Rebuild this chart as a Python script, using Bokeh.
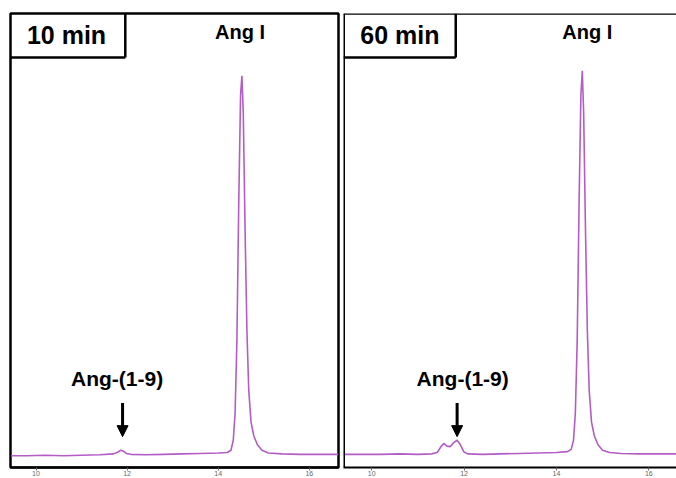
from bokeh.plotting import figure
from bokeh.layouts import row
from bokeh.models import Span, Arrow, NormalHead
from bokeh.core.properties import value
from bokeh.embed import file_html
from bokeh.resources import INLINE

# Retention time (min) and detector signal (a.u.)
t10 = [9.45, 9.8, 10.2, 10.6, 11.0, 11.4, 11.7, 11.8, 11.86, 11.92, 11.98, 12.08, 12.4, 12.8,
       13.2, 13.6, 14.0, 14.2, 14.28, 14.33, 14.37, 14.41, 14.45, 14.49, 14.52, 14.55, 14.59,
       14.63, 14.67, 14.72, 14.78, 14.86, 14.96, 15.1, 15.4, 15.8, 16.2, 16.64]
s10 = [2.6, 2.6, 2.7, 2.6, 2.7, 2.8, 3.0, 3.4, 3.8, 3.6, 3.1, 2.9, 2.8, 2.9,
       3.0, 3.1, 3.2, 3.3, 3.8, 6.0, 12.0, 28.0, 58.0, 82.0, 86.3, 78.0, 52.0,
       30.0, 17.0, 10.0, 7.0, 5.0, 3.8, 3.2, 3.0, 2.9, 2.9, 2.9]

t60 = [9.39, 9.8, 10.2, 10.6, 11.0, 11.3, 11.42, 11.5, 11.56, 11.63, 11.7, 11.78, 11.85, 11.92,
       12.0, 12.08, 12.4, 12.8, 13.2, 13.6, 14.0, 14.24, 14.32, 14.37, 14.41, 14.45, 14.49,
       14.53, 14.56, 14.59, 14.63, 14.67, 14.71, 14.76, 14.82, 14.9, 15.0, 15.15, 15.4, 15.8,
       16.2, 16.6]
s60 = [2.9, 2.9, 2.9, 3.0, 2.9, 3.0, 3.3, 4.6, 5.3, 4.7, 4.6, 5.5, 6.0, 5.0,
       3.4, 3.0, 2.9, 3.0, 3.1, 3.2, 3.3, 3.5, 4.0, 6.0, 12.0, 28.0, 58.0,
       82.0, 87.4, 78.0, 52.0, 30.0, 17.0, 10.0, 7.0, 5.0, 3.8, 3.3, 3.1, 3.0,
       3.0, 3.0]

panel_titles = ["10 min", "60 min"]
peak_labels = ["Ang I", "Ang-(1-9)"]
angI_rt = [14.5, 14.55]
ang19_rt = [11.9, 11.85]
tick_values = [10, 12, 14, 16]

LINE = "#b45cc6"
FONT = value("Liberation Sans")


def panel(t, s, title, x_range, box_right, title_x, angI_x, ang19_x, ang19_lx,
          width, mbl, mbr, outline):
    p = figure(width=width, height=478, x_range=x_range, y_range=(0, 100),
               output_backend="svg", toolbar_location=None, y_axis_location=None,
               min_border_left=mbl, min_border_right=mbr, min_border_top=13,
               min_border_bottom=0, background_fill_color="white",
               border_fill_color="white")
    p.grid.visible = False
    if outline:
        p.outline_line_color = "black"
        p.outline_line_width = 2.5
    else:
        p.outline_line_color = None
        p.add_layout(Span(location=x_range[0], dimension="height",
                          line_color="black", line_width=3))
        p.add_layout(Span(location=100, dimension="width",
                          line_color="black", line_width=2.5))
    ax = p.xaxis[0]
    ax.ticker = tick_values
    ax.ticker.num_minor_ticks = 10
    ax.axis_line_color = "black"
    ax.axis_line_width = 2
    ax.major_tick_in = 0
    ax.major_tick_out = 3
    ax.minor_tick_in = 0
    ax.minor_tick_out = 2
    ax.major_tick_line_color = "#666666"
    ax.minor_tick_line_color = "#666666"
    ax.major_label_text_font_size = "7px"
    ax.major_label_text_color = "#666666"
    ax.major_label_standoff = 0
    ax.axis_label_standoff = 0
    ax.major_label_text_font = "Liberation Sans"

    p.line(t, s, line_color=LINE, line_width=1.6)

    # title box: right and bottom edges (left/top coincide with the frame)
    p.segment(x0=[box_right, x_range[0]], y0=[100, 90.3], x1=[box_right, box_right],
              y1=[90.3, 90.3], line_color="black", line_width=2.5)
    p.text(x=[title_x], y=[95.2], text=[title], text_font=FONT, text_font_style="bold",
           text_font_size="25px", text_align="center", text_baseline="alphabetic",
           text_color="black")
    p.text(x=[angI_x], y=[96.0], text=[peak_labels[0]], text_font=FONT,
           text_font_style="bold", text_font_size="20px", text_align="center",
           text_baseline="alphabetic", text_color="black")
    p.text(x=[ang19_lx], y=[19.6], text=[peak_labels[1]], text_font=FONT,
           text_font_style="bold", text_font_size="21px", text_align="center",
           text_baseline="alphabetic", text_color="black")
    p.add_layout(Arrow(x_start=ang19_x, y_start=14.2, x_end=ang19_x, y_end=6.8,
                       line_width=3, line_color="black",
                       end=NormalHead(size=11, fill_color="black", line_color="black")))
    return p


p1 = panel(t10, s10, panel_titles[0], (9.44, 16.64), 11.96, 10.67, angI_rt[0] - 0.02,
           ang19_rt[0], ang19_rt[0] - 0.12, 340, 10, 2, True)
p2 = panel(t60, s60, panel_titles[1], (9.39, 16.6), 11.82, 10.61, angI_rt[1] + 0.12,
           ang19_rt[1], ang19_rt[1] + 0.12, 336, 3, 0, False)

layout = row(p1, p2, spacing=0)
open("out.html", "w").write(file_html(layout, INLINE))
